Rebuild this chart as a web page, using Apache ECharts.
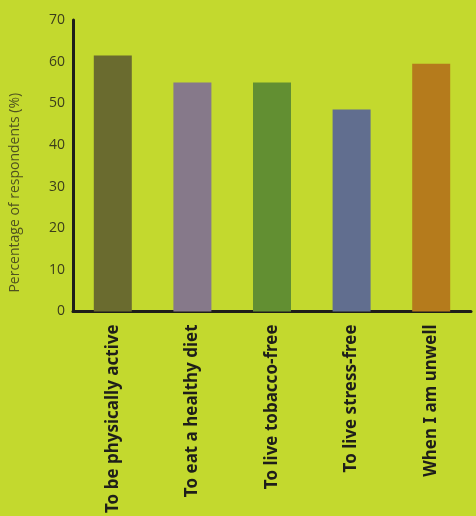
<!DOCTYPE html>
<html>
<head>
<meta charset="utf-8">
<script src="https://cdn.jsdelivr.net/npm/echarts@6/dist/echarts.min.js"></script>
<style>
  html, body { margin: 0; padding: 0; background: #c3d92e; }
  #myCharts { width: 476px; height: 516px; }
</style>
</head>
<body>
<div id="myCharts"></div>
<script>
// categories and values
const categories = [
  "To be physically active",
  "To eat a healthy diet",
  "To live tobacco-free",
  "To live stress-free",
  "When I am unwell"
];
const values = [61.5, 55, 55, 48.5, 59.5];
const barColors = ["#6a6b2f", "#86798a", "#628f32", "#616e8f", "#b57b1c"];
const yTicks = [0, 10, 20, 30, 40, 50, 60, 70];

let myCharts = echarts.init(document.getElementById("myCharts"));

let option = {
  backgroundColor: "#c3d92e",
  animation: false,
  grid: {
    left: 71,
    right: 5,
    top: 20,
    bottom: 203
  },
  xAxis: {
    type: "category",
    data: categories,
    axisLine: { lineStyle: { color: "#1e1e1a", width: 3 } },
    axisTick: { show: false },
    axisLabel: {
      rotate: 90,
      margin: 13,
      interval: 0,
      color: "#1e1e1a",
      fontFamily: "Noto Sans",
      fontWeight: "bold",
      fontSize: 17
    }
  },
  yAxis: {
    type: "value",
    min: yTicks[0],
    max: yTicks[yTicks.length - 1],
    interval: 10,
    name: "Percentage of respondents (%)",
    nameLocation: "middle",
    nameGap: 51,
    nameTextStyle: {
      color: "#4f5220",
      fontFamily: "Open Sans",
      fontSize: 14,
      padding: [0, 54, 0, 0]
    },
    axisLine: { show: true, lineStyle: { color: "#1e1e1a", width: 3 } },
    axisTick: { show: false },
    splitLine: { show: false },
    axisLabel: {
      margin: 8,
      color: "#3b3d1c",
      fontFamily: "Open Sans",
      fontSize: 14
    }
  },
  series: [
    {
      type: "bar",
      barWidth: 38,
      data: values.map((v, i) => ({ value: v, itemStyle: { color: barColors[i] } }))
    }
  ]
};

myCharts.setOption(option);
</script>
</body>
</html>
